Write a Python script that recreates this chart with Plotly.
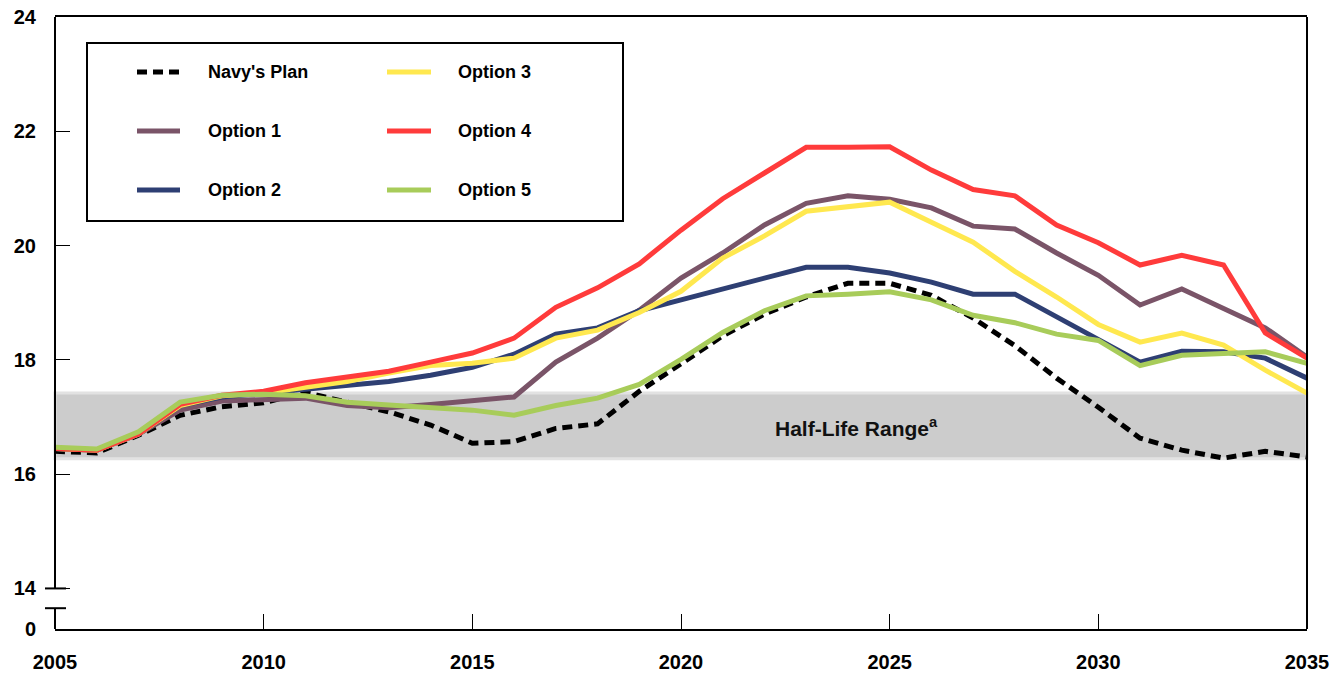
import plotly.graph_objects as go

years = list(range(2005, 2036))

series_names = ["Navy's Plan", "Option 1", "Option 2", "Option 3", "Option 4", "Option 5"]

navy_plan = [16.40, 16.37, 16.68, 17.03, 17.18, 17.25, 17.43, 17.27, 17.09, 16.86,
             16.54, 16.57, 16.80, 16.88, 17.45, 17.93, 18.42, 18.80, 19.10, 19.34,
             19.34, 19.13, 18.73, 18.25, 17.68, 17.17, 16.63, 16.42, 16.28, 16.40, 16.30]
option1 = [16.45, 16.42, 16.70, 17.12, 17.28, 17.30, 17.33, 17.20, 17.16, 17.22,
           17.28, 17.35, 17.96, 18.38, 18.87, 19.43, 19.87, 20.36, 20.74, 20.87,
           20.81, 20.66, 20.34, 20.29, 19.87, 19.48, 18.96, 19.24, 18.90, 18.56, 18.05]
option2 = [16.45, 16.42, 16.70, 17.20, 17.35, 17.42, 17.50, 17.57, 17.62, 17.73,
           17.87, 18.10, 18.45, 18.56, 18.86, 19.05, 19.24, 19.43, 19.62, 19.62,
           19.52, 19.36, 19.15, 19.15, 18.76, 18.37, 17.96, 18.15, 18.14, 18.03, 17.68]
option3 = [16.45, 16.42, 16.70, 17.20, 17.37, 17.42, 17.52, 17.62, 17.77, 17.90,
           17.94, 18.03, 18.38, 18.52, 18.83, 19.20, 19.78, 20.17, 20.60, 20.69,
           20.76, 20.41, 20.06, 19.55, 19.10, 18.62, 18.31, 18.47, 18.26, 17.82, 17.42]
option4 = [16.45, 16.42, 16.70, 17.22, 17.38, 17.45, 17.60, 17.70, 17.80, 17.96,
           18.12, 18.38, 18.92, 19.26, 19.68, 20.27, 20.82, 21.27, 21.72, 21.72,
           21.73, 21.32, 20.98, 20.87, 20.36, 20.05, 19.66, 19.83, 19.66, 18.47, 18.03]
option5 = [16.47, 16.44, 16.74, 17.26, 17.38, 17.40, 17.37, 17.26, 17.21, 17.16,
           17.12, 17.03, 17.20, 17.33, 17.57, 18.01, 18.48, 18.86, 19.12, 19.15,
           19.19, 19.05, 18.78, 18.65, 18.45, 18.34, 17.90, 18.08, 18.12, 18.14, 17.94]

half_life_range = [16.27, 17.42]
half_life_label = "Half-Life Range<sup>a</sup>"

y_tick_vals = [13.29, 14, 16, 18, 20, 22, 24]
y_tick_text = ["0", "14", "16", "18", "20", "22", "24"]
x_tick_vals = [2005, 2010, 2015, 2020, 2025, 2030, 2035]
x_tick_text = ["2005", "2010", "2015", "2020", "2025", "2030", "2035"]

series_values = [navy_plan, option1, option2, option3, option4, option5]
colors = ["#000000", "#7A5468", "#2E3F73", "#FFE84F", "#FF3B3B", "#A8CC5A"]
dashes = ["10px,6px", "solid", "solid", "solid", "solid", "solid"]

# body margin is removed by post_script, so figure pixels == page pixels
W, H = 1343, 675
PLOT_L, PLOT_R, PLOT_T, PLOT_B = 55, 1307, 17, 629
ML, MR, MT, MB = PLOT_L, W - PLOT_R, PLOT_T, H - PLOT_B
PW, PH = PLOT_R - PLOT_L, PLOT_B - PLOT_T


def px_x(px):
    return (px - PLOT_L) / PW


def px_y(py):
    return (PLOT_B - py) / PH


fig = go.Figure()
for name, vals, col, dsh in zip(series_names, series_values, colors, dashes):
    fig.add_trace(go.Scatter(x=years, y=vals, mode="lines", name=name,
                             line=dict(color=col, width=5, dash=dsh),
                             showlegend=False, hoverinfo="x+y+name"))

shapes = []
# half-life band
shapes.append(dict(type="rect", xref="paper", yref="y", x0=0, x1=1,
                   y0=half_life_range[0], y1=half_life_range[1],
                   fillcolor="#CCCCCC", line=dict(color="#E2E2E2", width=3),
                   layer="below"))
# left axis with break
shapes.append(dict(type="line", xref="paper", yref="y", x0=0, x1=0, y0=14, y1=24,
                   line=dict(color="black", width=2)))
shapes.append(dict(type="line", xref="paper", yref="y", x0=0, x1=0, y0=13.29, y1=13.654,
                   line=dict(color="black", width=2)))
for yb in [14, 13.654]:
    shapes.append(dict(type="line", xref="paper", yref="y", x0=px_x(45), x1=px_x(66),
                       y0=yb, y1=yb, line=dict(color="black", width=2)))

# legend box
shapes.append(dict(type="rect", xref="paper", yref="paper",
                   x0=px_x(87), x1=px_x(623), y0=px_y(221), y1=px_y(43),
                   fillcolor="white", line=dict(color="black", width=2)))

legend_font = dict(family="Liberation Sans, Arial, sans-serif",
                   size=18, color="black", weight="bold")
band_font = dict(family="Liberation Sans, Arial, sans-serif",
                 size=21, color="#111111", weight="bold")

annotations = []
row_py = [72, 131, 190]
col_px = [(137, 180, 206), (387, 431, 456)]
for i, (name, col, dsh) in enumerate(zip(series_names, colors, dashes)):
    c = i // 3
    r = i % 3
    x0, x1, tx = col_px[c]
    yy = px_y(row_py[r])
    shapes.append(dict(type="line", xref="paper", yref="paper", x0=px_x(x0), x1=px_x(x1),
                       y0=yy, y1=yy, line=dict(color=col, width=5, dash=dsh)))
    annotations.append(dict(xref="paper", yref="paper", x=px_x(tx), y=yy, text=name,
                            showarrow=False, xanchor="left", yanchor="middle",
                            font=legend_font))

annotations.append(dict(xref="x", yref="y", x=2024.2, y=16.83, text=half_life_label,
                        showarrow=False, xanchor="center", yanchor="middle",
                        font=band_font))

tick_font = dict(family="Liberation Sans, Arial, sans-serif", size=20, color="black",
                 weight="bold")

fig.update_layout(
    width=W, height=H,
    margin=dict(l=ML, r=MR, t=MT, b=MB, pad=0, autoexpand=False),
    paper_bgcolor="white", plot_bgcolor="white",
    shapes=shapes, annotations=annotations,
    showlegend=False,
    xaxis=dict(range=[2005, 2035], tickvals=x_tick_vals, ticktext=x_tick_text,
               showgrid=False, zeroline=False, showline=True, linecolor="black",
               linewidth=2, mirror=True, ticks="inside", ticklen=15, tickwidth=1,
               tickcolor="black", tickfont=tick_font, ticklabelstandoff=14,
               automargin=False, ticklabeloverflow="allow"),
    yaxis=dict(range=[13.29, 24], tickvals=y_tick_vals, ticktext=y_tick_text,
               showgrid=False, zeroline=False, showline=False,
               ticks="inside", ticklen=15, tickwidth=1, tickcolor="black",
               tickfont=tick_font, ticklabelstandoff=18, automargin=False,
               ticklabeloverflow="allow"),
)
# right frame line (mirror of y axis)
fig.add_shape(type="line", xref="paper", yref="paper", x0=1, x1=1, y0=0, y1=1,
              line=dict(color="black", width=2))

fig.write_html("out.html",
               config={"displayModeBar": False},
               post_script="document.body.style.margin='0px';"
                           "document.body.style.overflow='hidden';")
